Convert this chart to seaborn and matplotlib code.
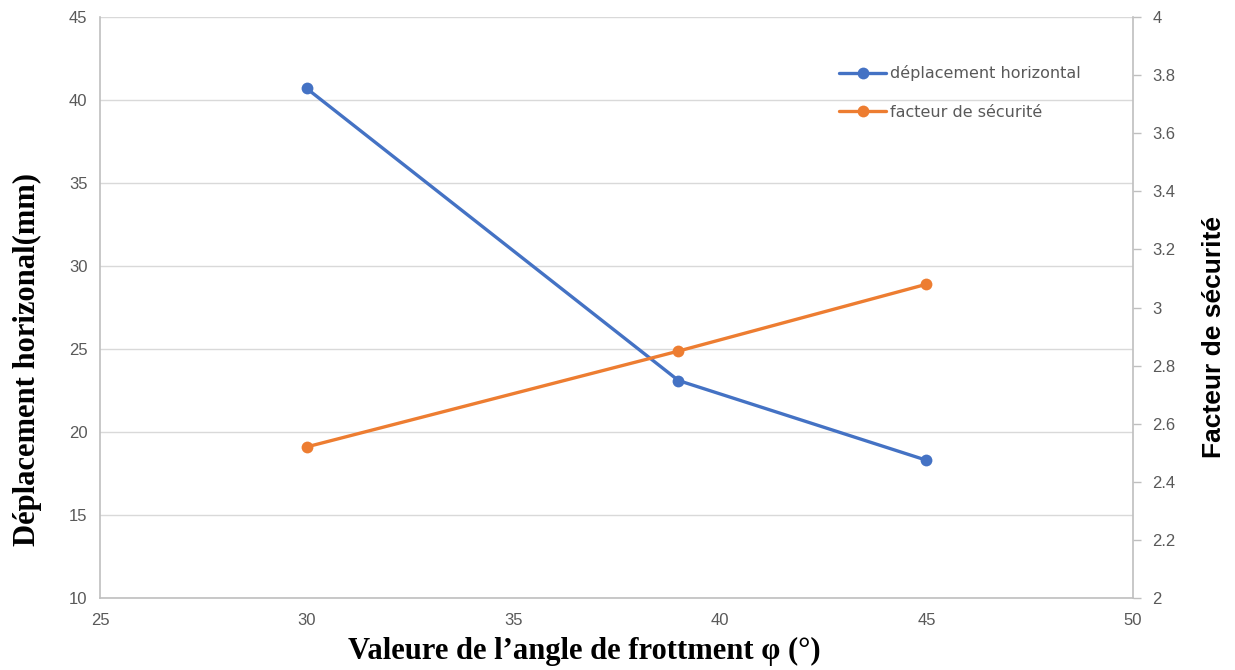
import matplotlib
matplotlib.use("Agg")
import matplotlib.pyplot as plt
import seaborn as sns
import pandas as pd
from matplotlib.ticker import MultipleLocator

# Friction angle (degrees)
angle = [30, 39, 45]
# Horizontal displacement (mm)
displacement = [40.7, 23.1, 18.3]
# Safety factor
safety = [2.52, 2.85, 3.08]

label_disp = "déplacement horizontal"
label_fs = "facteur de sécurité"

df = pd.DataFrame({"angle": angle, "disp": displacement, "fs": safety})

sns.set_theme(style="white")
plt.rcParams["font.family"] = ["Liberation Sans", "DejaVu Sans"]

blue = "#4472C4"
orange = "#ED7D31"
grid_c = "#D9D9D9"
spine_c = "#BFBFBF"
tick_c = "#595959"

fig = plt.figure(figsize=(12.35, 6.70), dpi=100)
ax = fig.add_axes([100 / 1235, 1 - 598 / 670, (1133 - 100) / 1235, (598 - 17) / 670])
ax2 = ax.twinx()

sns.lineplot(data=df, x="angle", y="disp", ax=ax, color=blue, lw=2.4,
             marker="o", markersize=8.5, markeredgewidth=0, label=label_disp, legend=False)
sns.lineplot(data=df, x="angle", y="fs", ax=ax2, color=orange, lw=2.4,
             marker="o", markersize=8.5, markeredgewidth=0, label=label_fs, legend=False)

ax.set_xlim(25, 50)
ax.set_ylim(10, 45)
ax2.set_ylim(2, 4)
ax.xaxis.set_major_locator(MultipleLocator(5))
ax.yaxis.set_major_locator(MultipleLocator(5))
ax2.set_yticks([2, 2.2, 2.4, 2.6, 2.8, 3, 3.2, 3.4, 3.6, 3.8, 4])
ax2.set_yticklabels(["2", "2.2", "2.4", "2.6", "2.8", "3", "3.2", "3.4", "3.6", "3.8", "4"])

ax.grid(axis="y", color=grid_c, lw=1)
ax.grid(axis="x", visible=False)
ax2.grid(False)
ax.set_axisbelow(True)

for a in (ax, ax2):
    a.spines["top"].set_visible(False)
    for s in ("left", "right", "bottom"):
        a.spines[s].set_color(spine_c)
        a.spines[s].set_linewidth(1.2)
ax.spines["right"].set_visible(False)
ax2.spines["left"].set_visible(False)
ax2.spines["bottom"].set_visible(False)

ax.tick_params(axis="both", length=0, labelsize=12, labelcolor=tick_c, pad=9)
ax.tick_params(axis="x", pad=11)
ax2.tick_params(axis="y", length=6, width=1, color=spine_c, labelsize=12,
                labelcolor=tick_c, pad=8, direction="out")

ax.set_xlabel("Valeure de l’angle de frottment φ (°)", fontsize=22, fontweight="bold",
              family=["Liberation Serif", "DejaVu Serif"], color="black")
ax.xaxis.set_label_coords(0.469, -0.067)
ax.set_ylabel("Déplacement horizonal(mm)", fontsize=22, fontweight="bold",
              family=["Liberation Serif", "DejaVu Serif"], color="black")
ax.yaxis.set_label_coords(-0.056, 0.41)
ax2.set_ylabel("Facteur de sécurité", fontsize=19, fontweight="bold",
               family=["Liberation Sans", "DejaVu Sans"], color="black")
ax2.yaxis.set_label_coords(1.067, 0.45)

h1, l1 = ax.get_legend_handles_labels()
h2, l2 = ax2.get_legend_handles_labels()
leg = ax2.legend(h1 + h2, l1 + l2, loc="upper left", bbox_to_anchor=(833 / 1235, 1 - 59 / 670),
                 bbox_transform=fig.transFigure, frameon=False,
                 prop={"family": ["DejaVu Sans"], "size": 11.5},
                 handlelength=2.9, handletextpad=0.25, labelspacing=1.45, borderaxespad=0)
for t in leg.get_texts():
    t.set_color(tick_c)

fig.savefig("out.png", dpi=100)
